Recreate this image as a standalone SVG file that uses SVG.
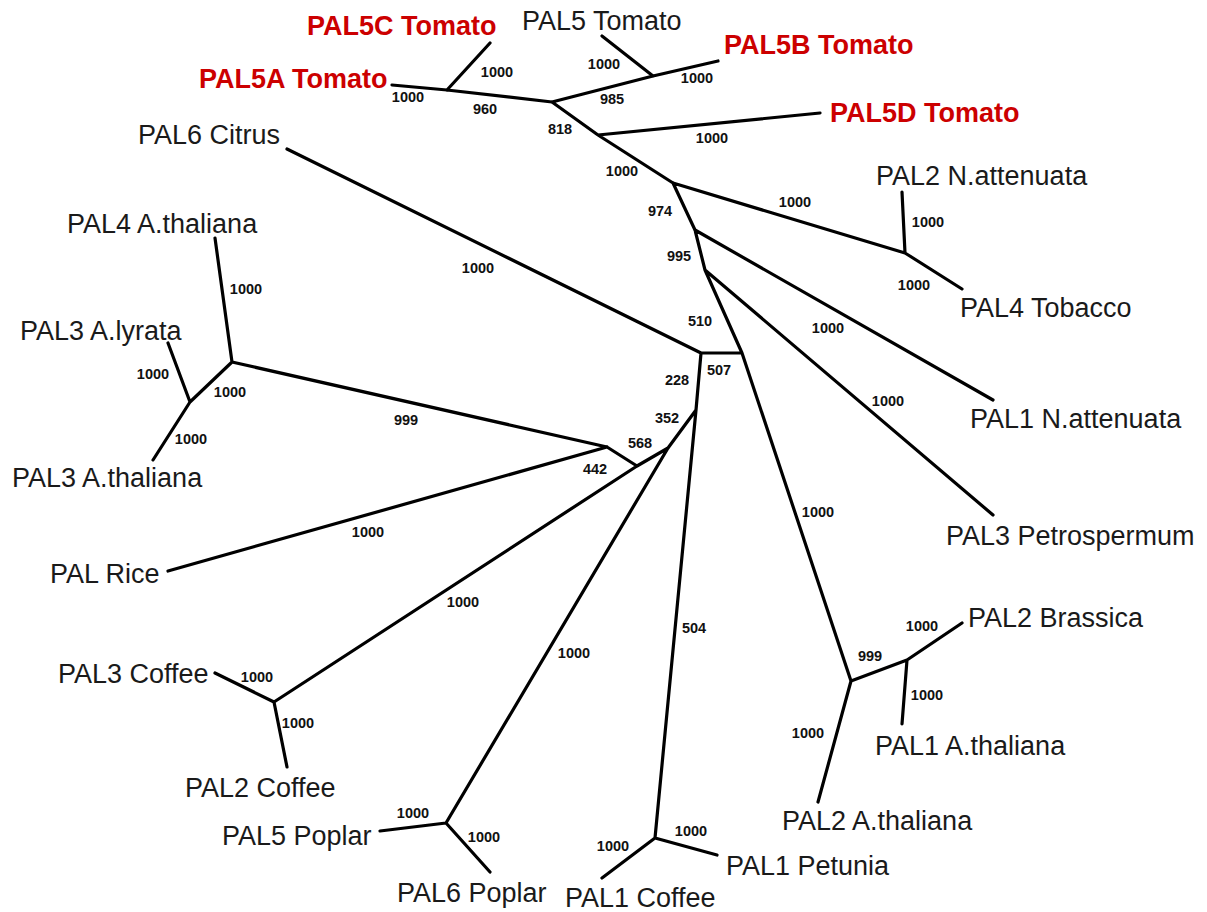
<svg xmlns="http://www.w3.org/2000/svg" width="1207" height="912" viewBox="0 0 1207 912">
<style>
.e{stroke:#000;stroke-width:3.2;stroke-linecap:round;fill:none}
.b{font-family:"Liberation Sans",Arial,sans-serif;font-size:14.5px;font-weight:bold;fill:#111;text-anchor:middle}
.t{font-family:"Liberation Sans",Arial,sans-serif;font-size:27px;fill:#1a1a1a}
.r{font-family:"Liberation Sans",Arial,sans-serif;font-size:27px;font-weight:bold;fill:#cc0000}
</style>
<rect width="1207" height="912" fill="#fff"/>
<g id="connectors">
<path class="e" d="M447,90L392,85M447,90L490,43M447,90L552,102M552,102L653,76M653,76L602,36M653,76L718,61M552,102L598,135M598,135L820,113M598,135L673,183M673,183L905,253M905,253L902,192M905,253L962,289M673,183L695,230M695,230L993,400M695,230L705,270M705,270L993,515M705,270L742,353M742,353L701,353M701,353L287,149M742,353L851,681M851,681L907,660M907,660L962,623M907,660L902,724M851,681L818,802M701,353L696,410M696,410L655,838M655,838L602,878M655,838L717,855M696,410L668,448M668,448L446,823M446,823L380,831M446,823L490,872M668,448L637,466M637,466L274,702M274,702L215,673M274,702L287,767M637,466L607,447M607,447L168,571M607,447L232,362M232,362L215,238M232,362L190,402M190,402L168,343M190,402L153,460"/>
<g id="support">
<text class="b" x="408" y="102">1000</text>
<text class="b" x="497" y="77">1000</text>
<text class="b" x="485" y="114">960</text>
<text class="b" x="604" y="69">1000</text>
<text class="b" x="697" y="83">1000</text>
<text class="b" x="612" y="104">985</text>
<text class="b" x="560" y="134">818</text>
<text class="b" x="712" y="143">1000</text>
<text class="b" x="622" y="176">1000</text>
<text class="b" x="660" y="216">974</text>
<text class="b" x="795" y="207">1000</text>
<text class="b" x="928" y="227">1000</text>
<text class="b" x="914" y="290">1000</text>
<text class="b" x="679" y="261">995</text>
<text class="b" x="700" y="326">510</text>
<text class="b" x="719" y="375">507</text>
<text class="b" x="677" y="385">228</text>
<text class="b" x="828" y="333">1000</text>
<text class="b" x="888" y="406">1000</text>
<text class="b" x="667" y="423">352</text>
<text class="b" x="640" y="448">568</text>
<text class="b" x="595" y="474">442</text>
<text class="b" x="478" y="273">1000</text>
<text class="b" x="406" y="425">999</text>
<text class="b" x="246" y="294">1000</text>
<text class="b" x="153" y="379">1000</text>
<text class="b" x="230" y="397">1000</text>
<text class="b" x="191" y="444">1000</text>
<text class="b" x="368" y="537">1000</text>
<text class="b" x="257" y="682">1000</text>
<text class="b" x="298" y="728">1000</text>
<text class="b" x="463" y="607">1000</text>
<text class="b" x="574" y="658">1000</text>
<text class="b" x="694" y="633">504</text>
<text class="b" x="818" y="517">1000</text>
<text class="b" x="808" y="738">1000</text>
<text class="b" x="870" y="661">999</text>
<text class="b" x="922" y="631">1000</text>
<text class="b" x="927" y="700">1000</text>
<text class="b" x="413" y="818">1000</text>
<text class="b" x="484" y="842">1000</text>
<text class="b" x="613" y="851">1000</text>
<text class="b" x="691" y="836">1000</text>
</g>
</g>
<g id="PAL5C_Tomato"><text class="r" x="307" y="35">PAL5C Tomato</text></g>
<g id="PAL5_Tomato"><text class="t" x="522" y="30">PAL5 Tomato</text></g>
<g id="PAL5B_Tomato"><text class="r" x="724" y="54">PAL5B Tomato</text></g>
<g id="PAL5A_Tomato"><text class="r" x="199" y="88">PAL5A Tomato</text></g>
<g id="PAL5D_Tomato"><text class="r" x="830" y="122">PAL5D Tomato</text></g>
<g id="PAL6_Citrus"><text class="t" x="138" y="144">PAL6 Citrus</text></g>
<g id="PAL2_Nattenuata"><text class="t" x="876" y="185">PAL2 N.attenuata</text></g>
<g id="PAL4_Athaliana"><text class="t" x="67" y="233">PAL4 A.thaliana</text></g>
<g id="PAL4_Tobacco"><text class="t" x="960" y="317">PAL4 Tobacco</text></g>
<g id="PAL3_Alyrata"><text class="t" x="20" y="340">PAL3 A.lyrata</text></g>
<g id="PAL1_Nattenuata"><text class="t" x="970" y="428">PAL1 N.attenuata</text></g>
<g id="PAL3_Athaliana"><text class="t" x="12" y="487">PAL3 A.thaliana</text></g>
<g id="PAL3_Petrospermum"><text class="t" x="946" y="545">PAL3 Petrospermum</text></g>
<g id="PAL_Rice"><text class="t" x="50" y="583">PAL Rice</text></g>
<g id="PAL2_Brassica"><text class="t" x="968" y="627">PAL2 Brassica</text></g>
<g id="PAL3_Coffee"><text class="t" x="58" y="683">PAL3 Coffee</text></g>
<g id="PAL1_Athaliana"><text class="t" x="875" y="755">PAL1 A.thaliana</text></g>
<g id="PAL2_Coffee"><text class="t" x="185" y="797">PAL2 Coffee</text></g>
<g id="PAL2_Athaliana"><text class="t" x="782" y="830">PAL2 A.thaliana</text></g>
<g id="PAL5_Poplar"><text class="t" x="222" y="845">PAL5 Poplar</text></g>
<g id="PAL1_Petunia"><text class="t" x="726" y="875">PAL1 Petunia</text></g>
<g id="PAL6_Poplar"><text class="t" x="397" y="902">PAL6 Poplar</text></g>
<g id="PAL1_Coffee"><text class="t" x="565" y="907">PAL1 Coffee</text></g>
</svg>
